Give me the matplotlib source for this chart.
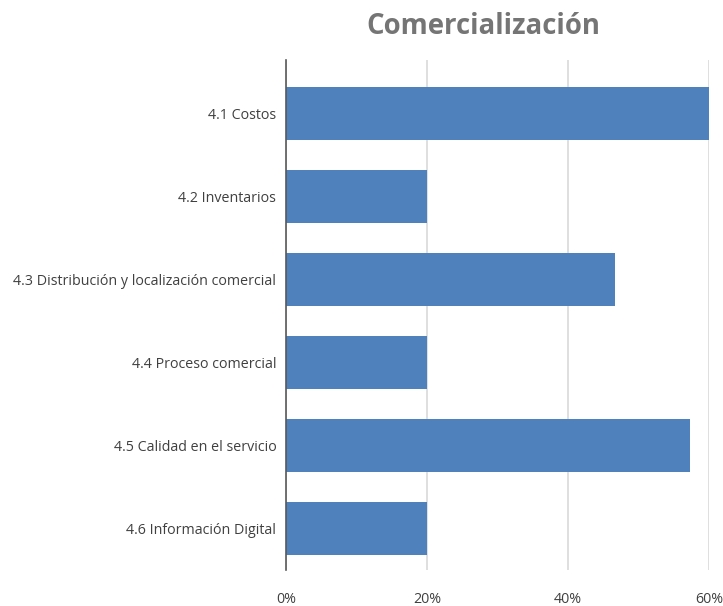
import matplotlib
matplotlib.use("Agg")
import matplotlib.pyplot as plt
from matplotlib.ticker import FuncFormatter

categories = [
    "4.1 Costos",
    "4.2 Inventarios",
    "4.3 Distribución y localización comercial",
    "4.4 Proceso comercial",
    "4.5 Calidad en el servicio",
    "4.6 Información Digital",
]
values = [60.0, 20.0, 46.7, 20.0, 57.3, 20.0]
xticks = [0, 20, 40, 60]

plt.rcParams["font.family"] = ["Open Sans", "DejaVu Sans"]

fig = plt.figure(figsize=(7.23, 6.06), dpi=100)
ax = fig.add_axes([0.3956, 0.0594, 0.5850, 0.8416])

pos = list(range(len(categories)))
ax.barh(pos, values, height=0.64, color="#4f81bd", zorder=3)

ax.set_ylim(len(categories) - 0.5, -0.65)
ax.set_xlim(0, 60)
ax.set_yticks(pos)
ax.set_yticklabels(categories, fontsize=10.3, color="#404040")
ax.set_xticks(xticks)
ax.xaxis.set_major_formatter(FuncFormatter(lambda v, _: f"{v:.0f}%"))
ax.tick_params(axis="x", labelsize=10.3, labelcolor="#404040", length=0, pad=16)
ax.tick_params(axis="y", length=0, pad=7)

ax.grid(axis="x", color="#d9d9d9", linewidth=1.2, zorder=0)
for side in ("top", "right", "bottom"):
    ax.spines[side].set_visible(False)
ax.spines["left"].set_color("#595959")
ax.spines["left"].set_linewidth(1.2)
ax.spines["left"].set_zorder(4)

fig.text(0.668, 0.956, "Comercialización", ha="center", va="center",
         fontsize=19.8, fontweight="bold", color="#757575")

fig.savefig("out.png", dpi=100, facecolor="white")
